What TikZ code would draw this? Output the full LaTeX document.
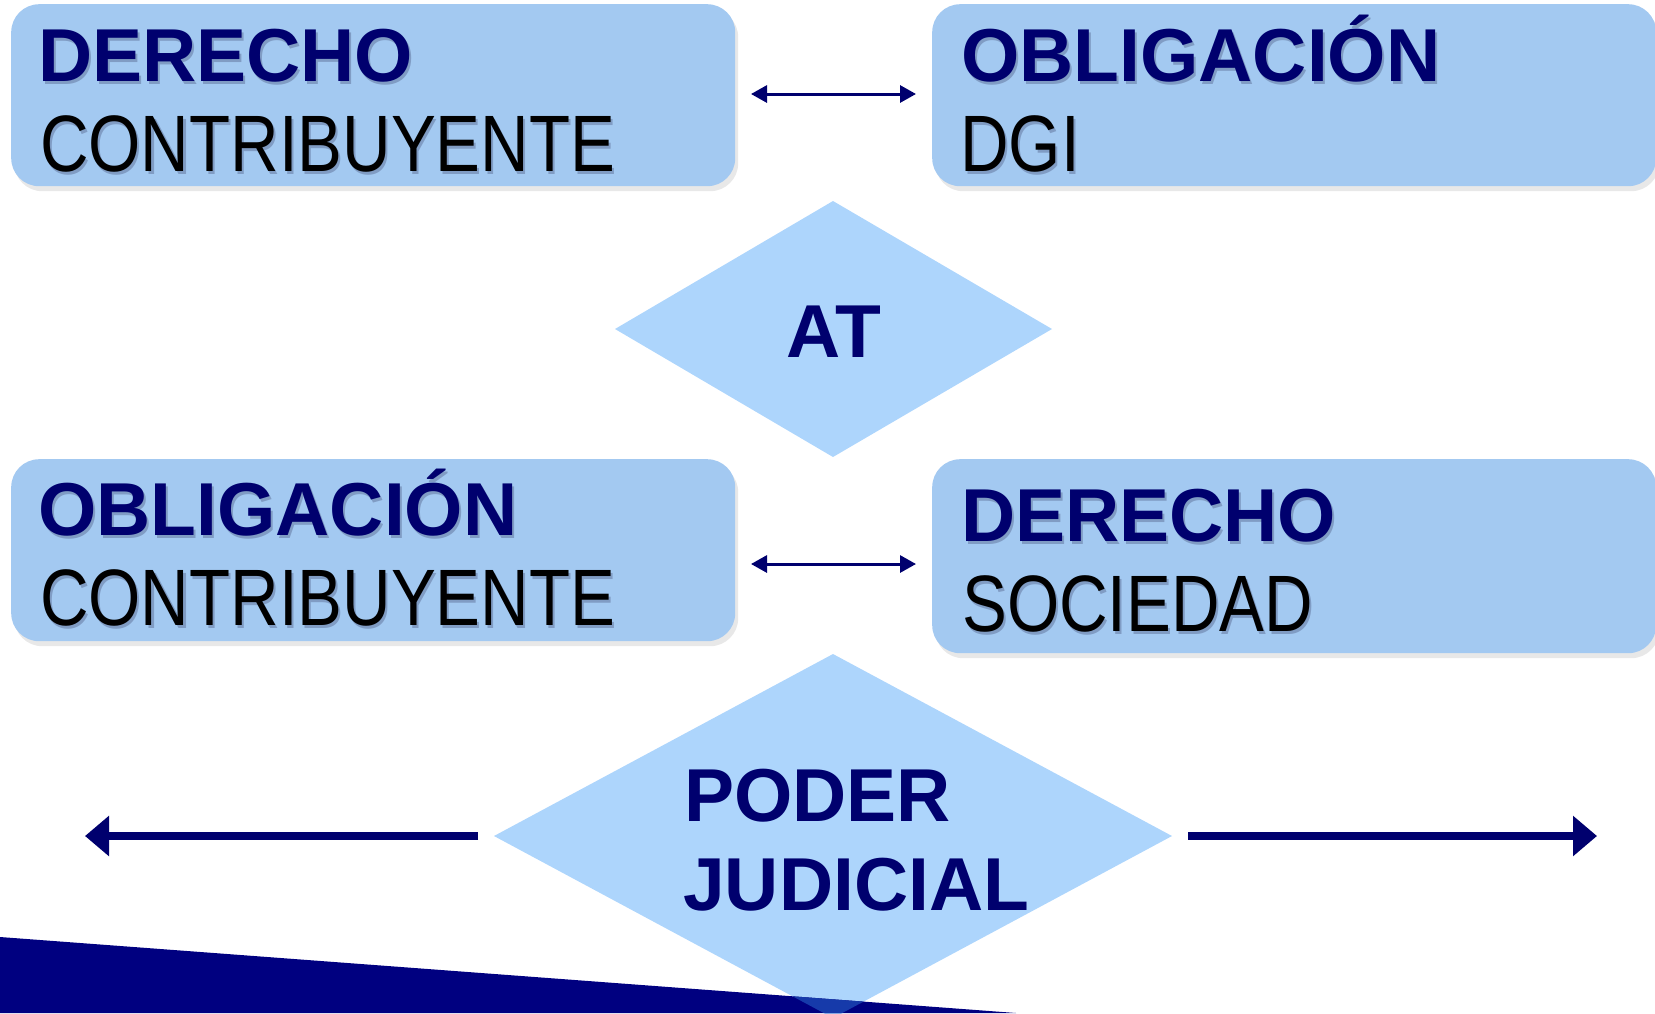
\documentclass[tikz,border=0pt]{standalone}
\usepackage{fontspec}
\setmainfont{Liberation Sans}
\newfontfamily\narrowfont[FakeStretch=0.84]{Liberation Sans}
\usetikzlibrary{arrows.meta,shadows}
\definecolor{navytext}{RGB}{0,0,110}
\definecolor{navyfill}{RGB}{0,0,128}
\definecolor{boxfill}{RGB}{163,201,241}
\definecolor{diafill}{RGB}{173,213,252}
\definecolor{overlapcol}{RGB}{22,58,170}
\definecolor{txtshadow}{RGB}{128,156,196}
\tikzset{
  box/.style={fill=boxfill, rounded corners=28pt, minimum width=724pt, minimum height=182pt,
    anchor=north west, inner sep=0pt,
    drop shadow={shadow xshift=3pt, shadow yshift=-5pt, fill=black!9, opacity=1}},
  boldtxt/.style={anchor=base west, inner sep=0pt, text=navytext, font=\fontsize{75}{80}\selectfont\bfseries},
  plaintxt/.style={anchor=base west, inner sep=0pt, text=black, font=\narrowfont\fontsize{80}{90}\selectfont},
  shad/.style={text=txtshadow},
  dia/.style={fill=diafill},
  thinarrow/.style={draw=navytext, line width=3pt,
    {Triangle[length=16pt,width=17pt]}-{Triangle[length=16pt,width=17pt]}},
  bigarrow/.style={draw=navytext, line width=8.3pt, -{Triangle[length=24pt,width=39pt]}},
}
\begin{document}
\begin{tikzpicture}[x=1pt,y=-1pt]
\useasboundingbox (0,0) rectangle (1655,1013);
\clip (0,0) rectangle (1655,1013);

% boxes
\node[box] (b1) at (11,4) {};
\node[box] (b2) at (932,4) {};
\node[box] (b3) at (11,459) {};
\node[box, minimum height=194pt] (b4) at (932,459) {};

% texts with shadows
\node[boldtxt,shad] (t1s) at (40,84) {DERECHO};
\node[boldtxt] (t1) at (38,81) {DERECHO};
\node[plaintxt,shad] (t2s) at (42,174) {CONTRIBUYENTE};
\node[plaintxt] (t2) at (40,171) {CONTRIBUYENTE};
\node[boldtxt,shad] (t3s) at (963,84) {OBLIGACIÓN};
\node[boldtxt] (t3) at (961,81) {OBLIGACIÓN};
\node[plaintxt,shad] (t4s) at (962,174) {DGI};
\node[plaintxt] (t4) at (960,171) {DGI};
\node[boldtxt,shad] (t5s) at (40,538) {OBLIGACIÓN};
\node[boldtxt] (t5) at (38,535) {OBLIGACIÓN};
\node[plaintxt,shad] (t6s) at (42,628) {CONTRIBUYENTE};
\node[plaintxt] (t6) at (40,625) {CONTRIBUYENTE};
\node[boldtxt,shad] (t7s) at (963,544) {DERECHO};
\node[boldtxt] (t7) at (961,541) {DERECHO};
\node[plaintxt,shad] (t8s) at (964,634) {SOCIEDAD};
\node[plaintxt] (t8) at (962,631) {SOCIEDAD};

% double arrows
\coordinate (a1l) at (751,94);
\coordinate (a1r) at (916,94);
\draw[thinarrow] (a1l) -- (a1r);
\coordinate (a2l) at (751,564);
\coordinate (a2r) at (916,564);
\draw[thinarrow] (a2l) -- (a2r);

% AT diamond
\coordinate (d1w) at (615,329);
\coordinate (d1n) at (833,201);
\coordinate (d1e) at (1052,329);
\coordinate (d1s) at (833,457);
\fill[dia] (d1w) -- (d1n) -- (d1e) -- (d1s) -- cycle;
\node[boldtxt, anchor=base] (at) at (834,357) {AT};

% PODER JUDICIAL diamond
\coordinate (d2w) at (494,836);
\coordinate (d2n) at (833,654);
\coordinate (d2e) at (1172,836);
\coordinate (d2s) at (833,1018);
\fill[dia] (d2w) -- (d2n) -- (d2e) -- (d2s) -- cycle;
\node[boldtxt] (pj1) at (684,821) {PODER};
\node[boldtxt] (pj2) at (683,910) {JUDICIAL};

% big arrows
\coordinate (la0) at (478,836);
\coordinate (la1) at (85,836);
\draw[bigarrow] (la0) -- (la1);
\coordinate (ra0) at (1188,836);
\coordinate (ra1) at (1597,836);
\draw[bigarrow] (ra0) -- (ra1);

% bottom navy band
\coordinate (p1) at (0,937);
\coordinate (p2) at (1016,1013);
\coordinate (p3) at (0,1013);
\fill[navyfill] (p1) -- (p2) -- (p3) -- cycle;
\begin{scope}
  \clip (p1) -- (p2) -- (p3) -- cycle;
  \fill[overlapcol] (d2w) -- (d2n) -- (d2e) -- (d2s) -- cycle;
\end{scope}
\end{tikzpicture}
\end{document}
